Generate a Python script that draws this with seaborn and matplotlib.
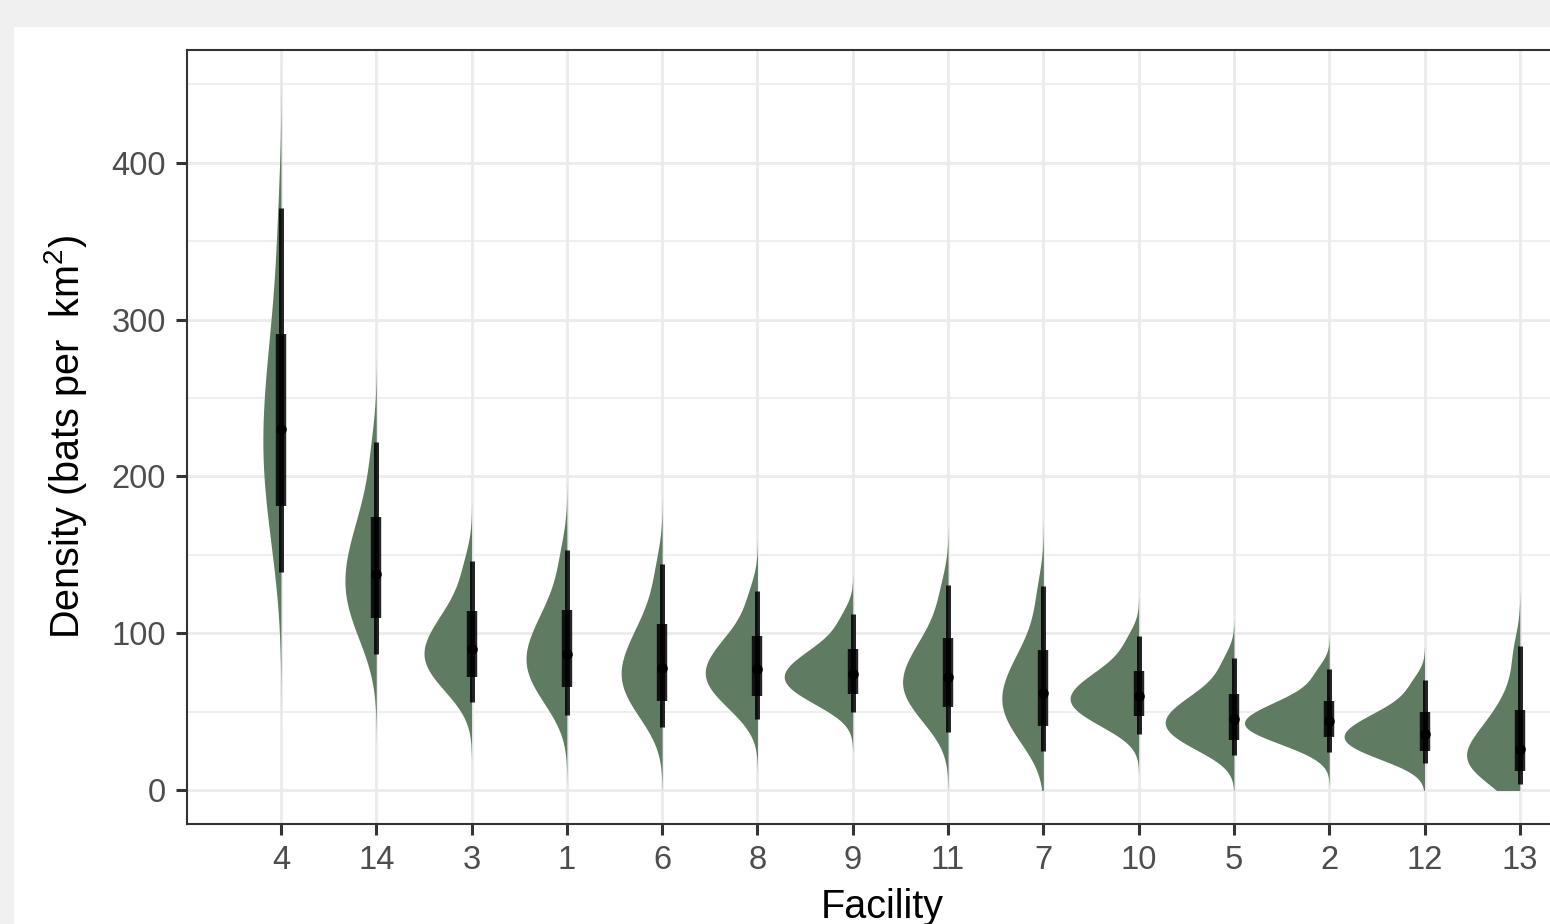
import matplotlib
matplotlib.use("Agg")
import matplotlib.pyplot as plt
from matplotlib.patches import Rectangle
from matplotlib.transforms import Affine2D
import numpy as np
import pandas as pd
import seaborn as sns

# ---------------- data ----------------
facilities = ["4", "14", "3", "1", "6", "8", "9", "11", "7", "10", "5", "2", "12", "13"]

# estimated posterior quantiles (16 evenly spaced levels) per facility
draws_4 = [143, 166, 179, 190, 200, 209, 218, 226, 235, 245, 256, 267, 280, 296, 320, 363]
draws_14 = [89, 102, 109, 115, 121, 126, 131, 136, 141, 147, 153, 160, 167, 177, 191, 217]
draws_3 = [57.5, 66.2, 71.1, 75.4, 79.1, 82.4, 85.5, 88.5, 92.0, 96.0, 100.1, 104.6, 109.5, 115.8, 125.6, 142.9]
draws_1 = [49.7, 59.5, 65.0, 69.9, 74.3, 78.2, 81.8, 85.3, 89.3, 94.0, 98.8, 104.0, 109.8, 117.1, 128.7, 149.3]
draws_6 = [41.6, 50.8, 56.1, 60.9, 65.3, 69.2, 72.8, 76.3, 80.3, 85.0, 89.8, 95.0, 100.8, 108.1, 119.7, 140.3]
draws_8 = [46.4, 54.6, 59.2, 63.2, 66.7, 69.8, 72.8, 75.6, 78.7, 82.2, 85.8, 89.7, 94.1, 99.6, 108.5, 124.2]
draws_9 = [51.1, 57.0, 60.4, 63.4, 66.1, 68.5, 70.8, 72.9, 75.3, 78.0, 80.7, 83.7, 87.0, 91.2, 98.0, 109.9]
draws_11 = [38.5, 47.2, 52.1, 56.5, 60.5, 64.0, 67.3, 70.4, 74.0, 78.2, 82.5, 87.2, 92.3, 98.9, 109.3, 127.7]
draws_7 = [26.5, 35.2, 40.1, 44.9, 49.3, 53.2, 56.8, 60.3, 64.2, 68.7, 73.4, 78.4, 84.0, 91.3, 103.8, 126.0]
draws_10 = [37.1, 43.0, 46.4, 49.4, 52.1, 54.5, 56.8, 58.9, 61.3, 64.0, 66.7, 69.7, 73.0, 77.2, 84.0, 95.9]
draws_5 = [23.0, 28.4, 31.4, 34.4, 37.1, 39.5, 41.8, 43.9, 46.3, 49.0, 51.7, 54.7, 58.0, 62.3, 69.3, 81.8]
draws_2 = [25.0, 30.4, 33.4, 35.9, 37.9, 39.8, 41.5, 43.2, 45.1, 47.2, 49.5, 51.9, 54.6, 58.1, 64.2, 75.1]
draws_12 = [17.8, 22.1, 24.6, 27.1, 29.3, 31.4, 33.3, 35.1, 37.1, 39.5, 41.9, 44.5, 47.4, 51.1, 57.2, 68.1]
draws_13 = [4.8, 9.1, 11.6, 14.6, 17.5, 20.1, 22.5, 24.9, 28.0, 32.2, 36.5, 41.2, 46.3, 53.3, 65.8, 88.0]

# interval summaries (95 % thin, 66 % thick, median point)
lo95 = [139, 87, 56, 48, 40, 45, 50, 37, 25, 36, 22, 24, 17, 4]
lo66 = [181, 110, 72, 66, 57, 60, 61, 53, 41, 47, 32, 34, 25, 12]
med = [230, 138, 90, 87, 78, 77, 74, 72, 62, 60, 45, 44, 36, 26]
hi66 = [291, 174, 114, 115, 106, 98, 90, 97, 89, 76, 61, 57, 50, 51]
hi95 = [371, 222, 146, 153, 144, 127, 112, 131, 130, 98, 84, 77, 70, 92]

y_ticks = [0, 100, 200, 300, 400]

draws = {"4": draws_4, "14": draws_14, "3": draws_3, "1": draws_1, "6": draws_6,
         "8": draws_8, "9": draws_9, "11": draws_11, "7": draws_7, "10": draws_10,
         "5": draws_5, "2": draws_2, "12": draws_12, "13": draws_13}
df = pd.DataFrame([(f, v) for f in facilities for v in draws[f]],
                  columns=["facility", "density"])
df["side"] = "posterior"

# ---------------- styling ----------------
sns.set_theme(style="whitegrid")
plt.rcParams["font.family"] = ["Liberation Sans", "DejaVu Sans"]
plt.rcParams["mathtext.default"] = "regular"

W, H = 1550, 924
GREEN = "#5f7b61"
VIOLIN_WIDTH = 0.89

fig = plt.figure(figsize=(W / 100, H / 100), dpi=100)
fig.patch.set_facecolor("#f0f0f0")
fig.add_artist(Rectangle((14 / W, 0), 1 - 14 / W, 1 - 27 / H,
                         transform=fig.transFigure, facecolor="white",
                         edgecolor="none", zorder=-5))
ax = fig.add_axes([187 / W, 1 - 824 / H, (1577 - 187) / W, (824 - 50) / H])
ax.set_facecolor("white")

sns.violinplot(data=df, x="facility", y="density", hue="side", order=facilities,
               split=True, inner=None, density_norm="area", cut=3,
               bw_adjust=1.0, width=VIOLIN_WIDTH, palette={"posterior": GREEN},
               saturation=1, linewidth=0, legend=False, ax=ax)

# put the flat side of each half-violin on its category position
shift = Affine2D().translate(-VIOLIN_WIDTH / 2, 0) + ax.transData
clip = Rectangle((-5, 0), 30, 2000, transform=ax.transData)
for coll in ax.collections:
    coll.set_transform(shift)
    coll.set_clip_path(clip)
    coll.set_zorder(2)

pos = np.arange(len(facilities))
ax.vlines(pos, lo95, hi95, color="black", alpha=0.85, lw=3.6, zorder=3)
ax.vlines(pos, lo66, hi66, color="black", alpha=0.85, lw=7.5, zorder=4)
ax.scatter(pos, med, s=58, color="black", zorder=5, linewidths=0)

ax.set_xlim(-0.986, 13.6)
ax.set_ylim(-21.7, 472)
ax.set_yticks(y_ticks)
ax.set_yticks([50, 150, 250, 350, 450], minor=True)
ax.set_xticks(pos)
ax.set_xticklabels(facilities)

ax.set_axisbelow(True)
ax.grid(True, which="major", axis="both", color="#ebebeb", lw=2.0)
ax.grid(True, which="minor", axis="y", color="#ebebeb", lw=1.1)

for s in ax.spines.values():
    s.set_visible(True)
    s.set_color("#333333")
    s.set_linewidth(1.5)

ax.tick_params(axis="both", which="major", length=8, width=2.2, color="#333333",
               labelsize=23.5, labelcolor="#4d4d4d", pad=7, bottom=True, left=True)
ax.tick_params(axis="y", which="minor", length=0)

ax.set_xlabel("Facility", fontsize=28.5, color="black", labelpad=8.5)
ax.set_ylabel("Density (bats per  km$^{2}$)", fontsize=28.5, color="black", labelpad=16)

fig.savefig("out.png", dpi=100, facecolor=fig.get_facecolor())
